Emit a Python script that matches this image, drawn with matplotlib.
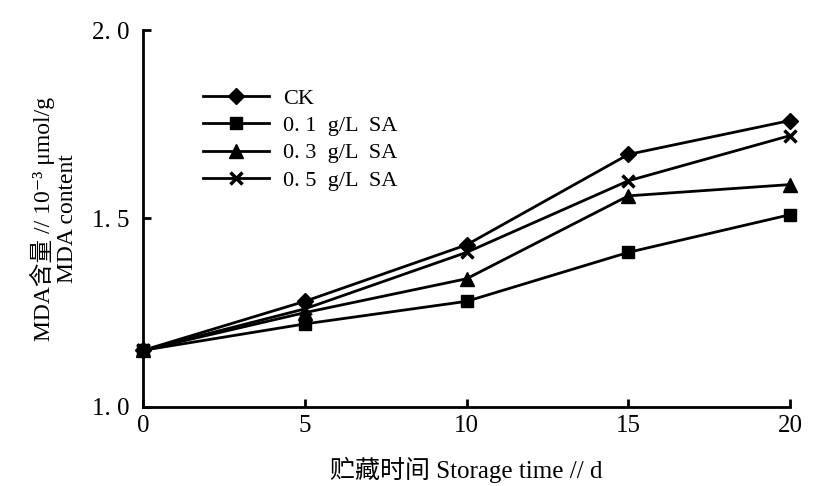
import matplotlib
matplotlib.use("Agg")
import matplotlib.pyplot as plt

plt.rcParams['font.family'] = ['Liberation Serif', 'Noto Sans CJK SC', 'DejaVu Sans']

# storage days and MDA content (10^-3 umol/g)
days = [0, 5, 10, 15, 20]
ck = [1.15, 1.28, 1.43, 1.67, 1.76]
sa01 = [1.15, 1.22, 1.28, 1.41, 1.51]
sa03 = [1.15, 1.25, 1.34, 1.56, 1.59]
sa05 = [1.15, 1.26, 1.41, 1.60, 1.72]

labels = ["CK", "0. 1  g/L  SA", "0. 3  g/L  SA", "0. 5  g/L  SA"]
markers = ["D", "s", "^", "x"]
sizes = [8, 9, 10, 8]
yticks = [1.0, 1.5, 2.0]
ytick_labels = ["1. 0", "1. 5", "2. 0"]

fig = plt.figure(figsize=(8.23, 4.86), dpi=100)
ax = fig.add_axes([0.174, 0.163, 0.786, 0.775])

for ys, lab, m, s in zip([ck, sa01, sa03, sa05], labels, markers, sizes):
    ax.plot(days, ys, color="black", lw=2, marker=m, ms=s, mew=2.5 if m == "x" else 1,
            label=lab, clip_on=False)

ax.set_xlim(0, 20)
ax.set_ylim(1.0, 2.0)
ax.set_xticks([0, 5, 10, 15, 20])
ax.set_yticks(yticks)
ax.set_yticklabels(ytick_labels)
ax.tick_params(direction="in", length=6, width=2, labelsize=18, pad=6)
ax.tick_params(axis="y", pad=10)
for side in ["top", "right"]:
    ax.spines[side].set_visible(False)
for side in ["left", "bottom"]:
    ax.spines[side].set_linewidth(2)

ax.set_xlabel("贮藏时间 Storage time // d", fontsize=18, labelpad=14)
ax.set_ylabel("MDA含量 // 10⁻³ μmol/g\nMDA content", fontsize=17, labelpad=10,
              linespacing=1.1)

ax.legend(loc="upper left", bbox_to_anchor=(0.075, 0.875), frameon=False, fontsize=16,
          handlelength=3.0, handletextpad=0.6, labelspacing=0.3, borderpad=0)

fig.savefig("out.png", dpi=100)
